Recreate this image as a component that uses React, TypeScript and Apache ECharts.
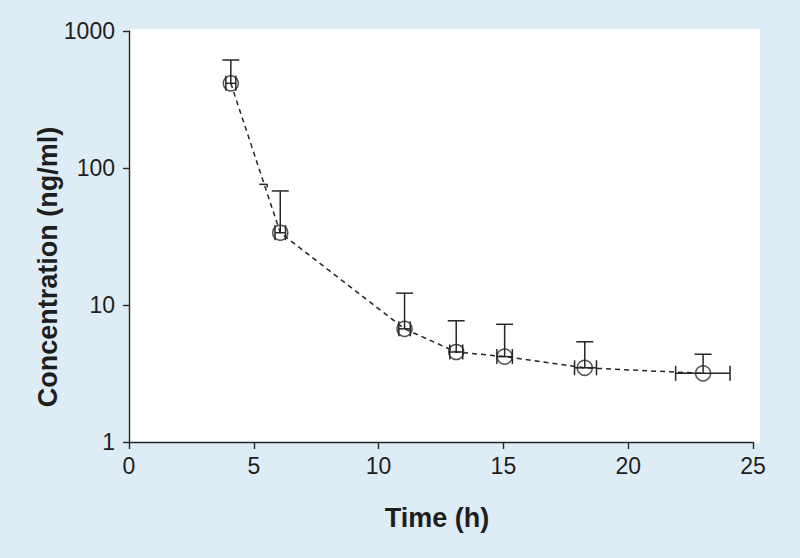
import React, { useEffect, useRef } from "react";
import * as echarts from "echarts";

// Data
const times = [4.08, 6.06, 11.04, 13.11, 15.05, 18.26, 23.0];
const conc = [415, 33.7, 6.7, 4.54, 4.2, 3.48, 3.17];
const concUpper = [614, 68, 12.2, 7.67, 7.23, 5.39, 4.37];
const timeLow = [3.88, 5.85, 10.81, 12.85, 14.74, 17.85, 21.9];
const timeHigh = [4.28, 6.27, 11.27, 13.37, 15.36, 18.73, 24.08];
const strayCapTime = [5.22, 5.54];
const strayCapConc = [76];

const xTicks = [0, 5, 10, 15, 20, 25];
const yTicks = [1, 10, 100, 1000];

const INK = "#262626";
const BG = "#deedf5";
const FONT = "'Liberation Sans', Arial, Helvetica, sans-serif";

export default function App() {
  const ref = useRef<HTMLDivElement>(null);

  useEffect(() => {
    if (!ref.current) return;
    const chart = echarts.init(ref.current, undefined, { renderer: "svg" });

    const errData = times.map((t, i) => [t, conc[i], concUpper[i], timeLow[i], timeHigh[i]]);
    const meanData = times.map((t, i) => [t, conc[i]]);

    const lineStyle = { stroke: INK, lineWidth: 1.5, fill: "none" };

    chart.setOption({
      animation: false,
      backgroundColor: BG,
      grid: { left: 129, right: 47, top: 31, bottom: 116, containLabel: false },
      graphic: [
        {
          type: "rect",
          z: -100,
          shape: { x: 129, y: 29, width: 631, height: 414 },
          style: { fill: "#ffffff" },
          silent: true,
        },
        {
          type: "text",
          x: 48,
          y: 267,
          rotation: Math.PI / 2,
          style: {
            text: "Concentration (ng/ml)",
            font: `bold 27px ${FONT}`,
            fill: "#1e1e1e",
            align: "center",
            verticalAlign: "middle",
          },
        },
        {
          type: "text",
          x: 437,
          y: 518,
          style: {
            text: "Time (h)",
            font: `bold 27px ${FONT}`,
            fill: "#1e1e1e",
            align: "center",
            verticalAlign: "middle",
          },
        },
      ],
      xAxis: {
        type: "value",
        min: xTicks[0],
        max: xTicks[xTicks.length - 1],
        interval: 5,
        axisLine: { show: true, lineStyle: { color: INK, width: 1.4 } },
        axisTick: { show: true, inside: false, length: 7, lineStyle: { color: INK, width: 1.4 } },
        axisLabel: {
          fontSize: 23,
          fontFamily: FONT,
          color: "#1e1e1e",
          margin: 12,
          formatter: (v: number) => (xTicks.includes(v) ? String(v) : ""),
        },
        splitLine: { show: false },
      },
      yAxis: {
        type: "log",
        logBase: 10,
        min: yTicks[0],
        max: yTicks[yTicks.length - 1],
        axisLine: { show: true, lineStyle: { color: INK, width: 1.4 } },
        axisTick: { show: true, inside: false, length: 6, lineStyle: { color: INK, width: 1.4 } },
        axisLabel: {
          fontSize: 23,
          fontFamily: FONT,
          color: "#1e1e1e",
          margin: 14,
          formatter: (v: number) => String(Math.round(v)),
        },
        splitLine: { show: false },
        minorTick: { show: false },
      },
      series: [
        {
          type: "line",
          data: meanData,
          symbol: "none",
          lineStyle: { color: INK, width: 1.5, type: [5, 4] },
          z: 2,
        },
        {
          type: "custom",
          data: errData,
          encode: { x: [0, 3, 4], y: [1, 2] },
          z: 3,
          renderItem: (params: any, api: any) => {
            const x = api.value(0);
            const m = api.value(1);
            const up = api.value(2);
            const xl = api.value(3);
            const xh = api.value(4);
            const c = api.coord([x, m]);
            const u = api.coord([x, up]);
            const l = api.coord([xl, m]);
            const h = api.coord([xh, m]);
            const capW = 8.5;
            const capH = 7.5;
            return {
              type: "group",
              children: [
                { type: "line", shape: { x1: c[0], y1: c[1], x2: u[0], y2: u[1] }, style: lineStyle },
                { type: "line", shape: { x1: u[0] - capW, y1: u[1], x2: u[0] + capW, y2: u[1] }, style: lineStyle },
                { type: "line", shape: { x1: l[0], y1: l[1], x2: h[0], y2: h[1] }, style: lineStyle },
                { type: "line", shape: { x1: l[0], y1: l[1] - capH, x2: l[0], y2: l[1] + capH }, style: lineStyle },
                { type: "line", shape: { x1: h[0], y1: h[1] - capH, x2: h[0], y2: h[1] + capH }, style: lineStyle },
              ],
            };
          },
        },
        {
          type: "custom",
          data: [[strayCapTime[0], strayCapTime[1], strayCapConc[0]]],
          encode: { x: [0, 1], y: [2] },
          z: 3,
          renderItem: (params: any, api: any) => {
            const a = api.coord([api.value(0), api.value(2)]);
            const b = api.coord([api.value(1), api.value(2)]);
            return {
              type: "group",
              children: [
                { type: "line", shape: { x1: a[0], y1: a[1], x2: b[0], y2: b[1] }, style: lineStyle },
                { type: "line", shape: { x1: b[0], y1: b[1], x2: b[0], y2: b[1] + 3 }, style: lineStyle },
              ],
            };
          },
        },
        {
          type: "scatter",
          data: meanData,
          symbol: "circle",
          symbolSize: 15,
          itemStyle: { color: "rgba(0,0,0,0)", borderColor: INK, borderWidth: 1.5 },
          z: 4,
        },
      ],
    });

    return () => chart.dispose();
  }, []);

  return (
    <div
      ref={ref}
      style={{ position: "fixed", left: 0, top: 0, width: 800, height: 558 }}
    />
  );
}
